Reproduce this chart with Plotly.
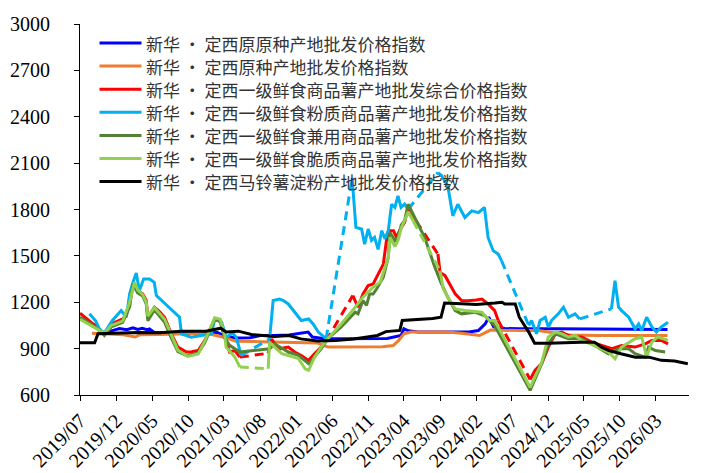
# -*- coding: utf-8 -*-
"""
plot.py — 新华·定西马铃薯系列价格指数走势图
"""

import plotly.graph_objects as go

# ---------------- 数据（None 表示数据中断，图中用虚线连接） ----------------

# 新华·定西原原种产地批发价格指数
YUANYUAN_DATES = [
    "2019-09-15", "2019-11-01", "2019-12-15", "2020-01-15", "2020-02-10", "2020-03-01",
    "2020-03-20", "2020-04-10", "2020-04-20", "2020-05-10", "2020-08-01", "2020-12-01",
    "2021-02-01", "2021-03-15", "2021-05-01", "2021-06-20", "2021-08-01", "2021-10-01",
    "2021-12-01", "2022-02-20", "2022-03-10", "2022-05-01", "2022-08-01", "2022-11-01",
    "2023-01-20", "2023-03-20", "2023-04-01", "2023-04-20", "2023-06-01", "2023-09-01",
    "2024-01-01", "2024-02-10", "2024-03-10", "2024-03-25", "2024-04-15", "2024-06-01",
    "2024-08-01", "2025-01-01", "2025-06-01", "2026-01-01", "2026-04-20",
]
YUANYUAN_VALUES = [
    1000, 1010, 1030, 1022, 1035, 1024,
    1032, 1022, 1028, 1005, 1000, 1005,
    1005, 975, 968, 970, 985, 985,
    988, 1007, 975, 964, 966, 964,
    966, 985, 1028, 1015, 1007, 1007,
    1007, 1017, 1060, 1103, 1040, 1030,
    1028, 1028, 1026, 1024, 1024,
]

# 新华·定西原种产地批发价格指数
YUANZHONG_DATES = [
    "2019-08-20", "2019-11-01", "2020-01-01", "2020-02-20", "2020-03-10", "2020-06-01",
    "2020-09-01", "2020-12-15", "2021-03-01", "2021-04-20", "2021-08-01", "2021-12-01",
    "2022-04-01", "2022-05-15", "2022-10-01", "2023-01-01", "2023-02-15", "2023-03-10",
    "2023-04-01", "2023-05-01", "2023-10-01", "2023-12-01", "2024-02-15", "2024-04-01",
    "2024-08-01", "2024-10-20", "2024-12-01", "2025-03-01", "2025-07-01", "2026-04-20",
]
YUANZHONG_VALUES = [
    1000, 995, 990, 975, 990, 992,
    995, 1000, 974, 948, 945, 942,
    936, 910, 910, 912, 920, 953,
    996, 1007, 1008, 1000, 985, 1020,
    1017, 1017, 1007, 988, 985, 985,
]

# 新华·定西一级鲜食商品薯产地批发综合价格指数
ZONGHE_DATES = [
    "2019-07-01", "2019-07-22", "2019-08-16", "2019-09-04", "2019-09-21", "2019-10-12",
    "2019-11-10", "2019-12-07", "2019-12-29", "2020-01-13", "2020-01-27", "2020-02-10",
    "2020-02-18", "2020-03-01", "2020-03-22", "2020-04-06", "2020-04-13", "2020-05-11",
    "2020-06-01", "2020-06-23", "2020-07-21", "2020-08-18", "2020-09-23", "2020-10-16",
    "2020-11-12", "2020-12-10", "2021-01-01", "2021-01-21", "2021-02-13", "2021-03-04",
    "2021-03-25", "2021-04-16", "2021-05-07", "2021-07-01", "2021-09-04", "2021-09-19",
    "2021-10-01", "2021-10-22", "2021-11-28", "2021-12-25", "2022-01-22", "2022-02-22",
    "2022-03-19", "2022-04-16", "2022-05-07", "2022-07-01", "2022-08-28", "2022-09-19",
    "2022-10-10", "2022-11-01", "2022-11-22", "2022-12-13", "2023-01-04", "2023-01-19",
    "2023-02-01", "2023-02-16", "2023-03-01", "2023-03-13", "2023-04-04", "2023-04-19",
    "2023-05-02", "2023-05-22", "2023-07-01", "2023-08-23", "2023-09-01", "2023-09-22",
    "2023-10-13", "2023-11-04", "2023-12-01", "2023-12-28", "2024-02-01", "2024-02-25",
    "2024-03-22", "2024-04-19", "2024-05-04", "2024-07-01", "2024-09-16", "2024-10-07",
    "2024-11-04", "2024-12-02", "2025-01-01", "2025-01-28", "2025-02-25", "2025-03-25",
    "2025-04-22", "2025-06-04", "2025-07-16", "2025-08-28", "2025-10-08", "2025-12-04",
    "2026-01-16", "2026-02-13", "2026-03-25", "2026-04-22",
]
ZONGHE_VALUES = [
    1129, 1100, 1071, 1050, 1028, 996,
    1060, 1075, 1092, 1120, 1189, 1318,
    1290, 1275, 1254, 1211, 1103, 1168,
    1140, 1103, 996, 910, 878, 880,
    888, 953, 1030, 1092, 1082, 974,
    878, 888, 845, None, 870, 963,
    931, 899, 910, 878, 856, 824,
    867, 910, 950, None, 1243, 1168,
    1254, 1308, 1318, 1383, 1447, 1619,
    1662, 1662, 1619, 1662, 1716, 1813,
    1780, 1727, None, 1512, 1393, 1372,
    1318, 1254, 1211, 1210, 1215, 1221,
    1189, 1146, 1082, None, 700, 760,
    803, 910, 996, 1007, 985, 975,
    975, 942, 920, 899, 920, 910,
    931, 953, 953, 931,
]

# 新华·定西一级鲜食粉质商品薯产地批发价格指数
FENZHI_DATES = [
    "2019-08-10", "2019-09-05", "2019-09-21", "2019-10-12", "2019-11-15", "2019-12-22",
    "2020-01-13", "2020-01-27", "2020-02-10", "2020-02-24", "2020-03-08", "2020-03-26",
    "2020-04-20", "2020-05-10", "2020-05-19", "2020-08-25", "2020-09-02", "2020-10-13",
    "2020-11-25", "2021-01-07", "2021-01-21", "2021-02-19", "2021-03-10", "2021-04-07",
    "2021-04-22", "2021-05-13", "2021-07-01", "2021-09-10", "2021-09-25", "2021-10-22",
    "2021-11-07", "2021-11-28", "2021-12-25", "2022-01-22", "2022-02-22", "2022-03-13",
    "2022-04-04", "2022-05-07", "2022-07-01", "2022-08-25", "2022-09-10", "2022-10-04",
    "2022-10-17", "2022-11-01", "2022-11-15", "2022-11-28", "2022-12-13", "2022-12-28",
    "2023-01-11", "2023-01-25", "2023-02-08", "2023-02-22", "2023-03-07", "2023-03-20",
    "2023-04-04", "2023-04-19", "2023-06-15", "2023-08-23", "2023-09-07", "2023-10-04",
    "2023-10-25", "2023-11-15", "2023-12-15", "2024-01-13", "2024-02-10", "2024-03-07",
    "2024-03-22", "2024-04-13", "2024-05-04", "2024-05-18", "2024-07-15", "2024-09-10",
    "2024-09-22", "2024-10-13", "2024-10-28", "2024-11-19", "2024-12-02", "2024-12-16",
    "2025-01-13", "2025-02-04", "2025-02-25", "2025-03-25", "2025-04-14", "2025-06-15",
    "2025-08-26", "2025-09-10", "2025-09-25", "2025-10-08", "2025-11-07", "2025-12-04",
    "2025-12-19", "2026-01-01", "2026-01-22", "2026-02-13", "2026-03-04", "2026-03-25",
    "2026-04-22",
]
FENZHI_VALUES = [
    1125, 1080, 1028, 1000, 1082, 1146,
    1103, 1254, 1329, 1389, 1275, 1350,
    1350, 1329, 1243, 1103, 996, 974,
    985, 996, 1092, 1071, 974, 1000,
    974, 856, None, 963, 1211, 1221,
    1211, 1189, 1136, 1082, 1092, 1060,
    1007, 964, None, 2005, 1684, 1674,
    1576, 1674, 1600, 1620, 1542, 1663,
    1610, 1663, 1834, 1813, 1888, 1813,
    1835, 1802, None, 2039, 2020, 1950,
    1759, 1834, 1748, 1791, 1780, 1813,
    1619, 1533, 1512, 1469, None, 1050,
    1082, 996, 1082, 1103, 1040, 1082,
    1125, 1168, 1103, 1125, 1092, None,
    1157, 1340, 1168, 1146, 1103, 1028,
    1060, 1017, 1103, 1040, 1007, 1040,
    1071,
]

# 新华·定西一级鲜食兼用商品薯产地批发价格指数
JIANYONG_DATES = [
    "2019-07-01", "2019-08-16", "2019-09-21", "2019-10-12", "2019-11-10", "2019-12-29",
    "2020-01-27", "2020-02-10", "2020-03-01", "2020-03-22", "2020-04-06", "2020-04-13",
    "2020-05-11", "2020-06-23", "2020-07-21", "2020-08-18", "2020-09-23", "2020-11-12",
    "2020-12-10", "2021-01-21", "2021-02-13", "2021-03-04", "2021-03-25", "2021-05-07",
    "2021-09-10", "2021-10-01", "2021-11-28", "2022-01-10", "2022-02-22", "2022-03-19",
    "2022-04-16", "2022-05-14", "2022-07-10", "2022-09-07", "2022-09-19", "2022-10-10",
    "2022-10-25", "2022-11-07", "2022-11-22", "2022-12-07", "2023-01-04", "2023-01-25",
    "2023-02-01", "2023-02-22", "2023-03-07", "2023-03-21", "2023-04-04", "2023-04-19",
    "2023-06-28", "2023-08-10", "2023-09-07", "2023-10-04", "2023-11-04", "2023-12-01",
    "2024-01-25", "2024-03-07", "2024-04-19", "2024-09-16", "2024-11-04", "2024-12-02",
    "2025-01-01", "2025-02-25", "2025-04-22", "2025-06-16", "2025-08-13", "2025-09-25",
    "2025-11-07", "2025-12-04", "2026-01-16", "2026-01-30", "2026-02-28", "2026-04-10",
]
JIANYONG_VALUES = [
    1103, 1060, 1020, 985, 1040, 1070,
    1170, 1318, 1260, 1240, 1190, 1080,
    1150, 1070, 970, 880, 856, 870,
    940, 1090, 1075, 970, 921, 878,
    899, 931, 878, 856, 802, 845,
    899, 964, 1040, 1136, 1125, 1211,
    1180, 1254, 1254, 1287, 1362, 1491,
    1652, 1598, 1620, 1700, 1728, 1834,
    1619, 1426, 1318, 1232, 1146, 1125,
    1136, 1114, 1050, 630, 803, 931,
    996, 964, 964, 920, 867, 899,
    899, 867, 845, 910, 888, 878,
]

# 新华·定西一级鲜食脆质商品薯产地批发价格指数
CUIZHI_DATES = [
    "2019-07-01", "2019-08-16", "2019-09-21", "2019-10-12", "2019-11-10", "2019-12-29",
    "2020-01-27", "2020-02-16", "2020-03-01", "2020-03-22", "2020-04-06", "2020-04-13",
    "2020-05-11", "2020-06-23", "2020-07-21", "2020-08-18", "2020-09-28", "2020-11-12",
    "2020-12-10", "2021-01-21", "2021-02-13", "2021-03-04", "2021-03-10", "2021-04-16",
    "2021-05-07", "2021-07-01", "2021-09-04", "2021-09-10", "2021-10-01", "2021-11-01",
    "2021-11-28", "2022-01-10", "2022-02-07", "2022-02-22", "2022-03-19", "2022-04-16",
    "2022-05-14", "2022-07-10", "2022-09-07", "2022-10-10", "2022-11-22", "2022-12-22",
    "2023-01-25", "2023-02-01", "2023-02-22", "2023-03-07", "2023-03-21", "2023-04-19",
    "2023-05-10", "2023-07-01", "2023-09-01", "2023-09-14", "2023-10-04", "2023-11-04",
    "2023-12-16", "2024-02-25", "2024-03-28", "2024-04-19", "2024-09-16", "2024-11-04",
    "2024-12-02", "2025-01-01", "2025-01-28", "2025-02-25", "2025-03-25", "2025-04-22",
    "2025-06-16", "2025-08-13", "2025-09-10", "2025-10-08", "2025-12-04", "2026-01-01",
    "2026-01-22", "2026-02-13", "2026-03-10", "2026-04-22",
]
CUIZHI_VALUES = [
    1090, 1050, 1015, 1000, 1050, 1080,
    1200, 1329, 1280, 1250, 1200, 1110,
    1165, 1090, 990, 890, 850, 865,
    950, 1100, 1090, 990, 910, 845,
    781, None, 770, 942, 910, 867,
    856, 835, 770, 760, 845, 910,
    964, 1060, 1168, 1233, 1297, 1330,
    1491, 1620, 1560, 1600, 1680, 1785,
    1727, None, 1404, 1290, 1232, 1157,
    1146, 1136, 1082, 1082, 650, 810,
    975, 1007, 996, 975, 985, 953,
    920, 878, 834, 910, 964, 975,
    845, 942, 975, 953,
]

# 新华·定西马铃薯淀粉产地批发价格指数
DIANFEN_DATES = [
    "2019-07-01", "2019-09-01", "2019-09-15", "2019-12-01", "2020-03-01", "2020-06-01",
    "2020-09-01", "2020-12-15", "2021-02-15", "2021-03-10", "2021-05-01", "2021-06-25",
    "2021-08-01", "2021-10-01", "2021-12-01", "2022-01-20", "2022-04-01", "2022-06-15",
    "2022-09-01", "2022-11-01", "2022-12-10", "2023-01-15", "2023-03-15", "2023-03-25",
    "2023-07-01", "2023-08-01", "2023-09-05", "2023-09-20", "2023-12-01", "2024-02-01",
    "2024-04-20", "2024-05-20", "2024-06-01", "2024-07-15", "2024-08-01", "2024-09-10",
    "2024-10-05", "2024-12-01", "2025-04-20", "2025-06-15", "2025-07-15", "2025-08-15",
    "2025-10-05", "2025-12-05", "2026-02-01", "2026-03-25", "2026-05-20", "2026-07-15",
]
DIANFEN_VALUES = [
    938, 938, 996, 1000, 1005, 1003,
    1013, 1013, 1032, 1007, 1013, 991,
    985, 979, 985, 963, 950, 952,
    963, 974, 985, 1010, 1018, 1082,
    1090, 1095, 1103, 1195, 1190, 1185,
    1195, 1200, 1189, 1189, 1103, 1007,
    935, 935, 942, 942, 910, 888,
    867, 845, 845, 824, 820, 802,
]

# 横轴刻度：每5个月一个
TICK_DATES = [
    "2019-07-01", "2019-12-01", "2020-05-01", "2020-10-01", "2021-03-01", "2021-08-01",
    "2022-01-01", "2022-06-01", "2022-11-01", "2023-04-01", "2023-09-01", "2024-02-01",
    "2024-07-01", "2024-12-01", "2025-05-01", "2025-10-01", "2026-03-01",
]
TICK_LABELS = [d[:7].replace("-", "/") for d in TICK_DATES]

SERIES = [
    ("新华 • 定西原原种产地批发价格指数", YUANYUAN_DATES, YUANYUAN_VALUES, "#0000FF"),
    ("新华 • 定西原种产地批发价格指数", YUANZHONG_DATES, YUANZHONG_VALUES, "#ED7D31"),
    ("新华 • 定西一级鲜食商品薯产地批发综合价格指数", ZONGHE_DATES, ZONGHE_VALUES, "#FF0000"),
    ("新华 • 定西一级鲜食粉质商品薯产地批发价格指数", FENZHI_DATES, FENZHI_VALUES, "#00B0F0"),
    ("新华 • 定西一级鲜食兼用商品薯产地批发价格指数", JIANYONG_DATES, JIANYONG_VALUES, "#548235"),
    ("新华 • 定西一级鲜食脆质商品薯产地批发价格指数", CUIZHI_DATES, CUIZHI_VALUES, "#92D050"),
    ("新华 • 定西马铃薯淀粉产地批发价格指数", DIANFEN_DATES, DIANFEN_VALUES, "#000000"),
]

# 画布与绘图区（像素）
W, H = 710, 473
MARGIN = dict(l=72, r=29, t=16, b=86)


def gap_bridges(dates, values):
    """数据中断处：把中断前后两个有效点连成一段（画虚线用）"""
    bx, by = [], []
    last = None
    broken = False
    for d, v in zip(dates, values):
        if v is None:
            broken = last is not None
            continue
        if broken:
            bx += [last[0], d, None]
            by += [last[1], v, None]
            broken = False
        last = (d, v)
    return bx, by


def add_legend(fig):
    """图例：Excel 风格行距较紧，用线段 + 文字手工排在左上角"""
    pw = W - MARGIN["l"] - MARGIN["r"]
    ph = H - MARGIN["t"] - MARGIN["b"]

    def px(x):
        return (x - MARGIN["l"]) / pw

    def py(y):
        return 1 - (y - MARGIN["t"]) / ph

    for i, (name, _, _, color) in enumerate(SERIES):
        y = py(35 + 23.1 * i)
        fig.add_shape(
            type="line", xref="paper", yref="paper",
            x0=px(91.5), x1=px(133.5), y0=y, y1=y,
            line=dict(color=color, width=3),
        )
        fig.add_annotation(
            xref="paper", yref="paper", x=px(137), y=y,
            xanchor="left", yanchor="middle", showarrow=False,
            text=name, borderpad=0,
            font=dict(family="Noto Sans CJK SC", size=17, color="#333333"),
        )


def main():
    fig = go.Figure()

    for name, dates, values, color in SERIES:
        fig.add_trace(go.Scatter(
            x=dates, y=values, mode="lines", name=name,
            line=dict(color=color, width=3),
            connectgaps=False, showlegend=False,
        ))
        bx, by = gap_bridges(dates, values)
        if bx:
            fig.add_trace(go.Scatter(
                x=bx, y=by, mode="lines", showlegend=False,
                line=dict(color=color, width=3, dash="9px,6px"),
                hoverinfo="skip",
            ))

    tick_font = dict(family="Liberation Serif, Times New Roman, serif", size=20, color="#000000")

    fig.update_xaxes(
        type="date", automargin=False,
        range=["2019-07-01", "2026-07-20"],
        tickmode="array", tickvals=TICK_DATES, ticktext=TICK_LABELS,
        tickangle=-45, tickfont=tick_font,
        ticks="outside", ticklen=5, tickcolor="#000000",
        showline=True, linecolor="#000000", linewidth=1,
        showgrid=False, zeroline=False,
    )
    fig.update_yaxes(
        automargin=False,
        range=[600, 3000], dtick=300, tick0=600,
        tickfont=tick_font, ticklabelstandoff=20,
        ticks="outside", ticklen=5, tickcolor="#000000",
        showline=True, linecolor="#000000", linewidth=1,
        showgrid=False, zeroline=False,
    )

    add_legend(fig)

    fig.update_layout(
        width=W, height=H,
        margin=MARGIN,
        paper_bgcolor="#FFFFFF", plot_bgcolor="#FFFFFF",
        showlegend=False,
    )

    fig.write_html("out.html")


if __name__ == "__main__":
    main()
